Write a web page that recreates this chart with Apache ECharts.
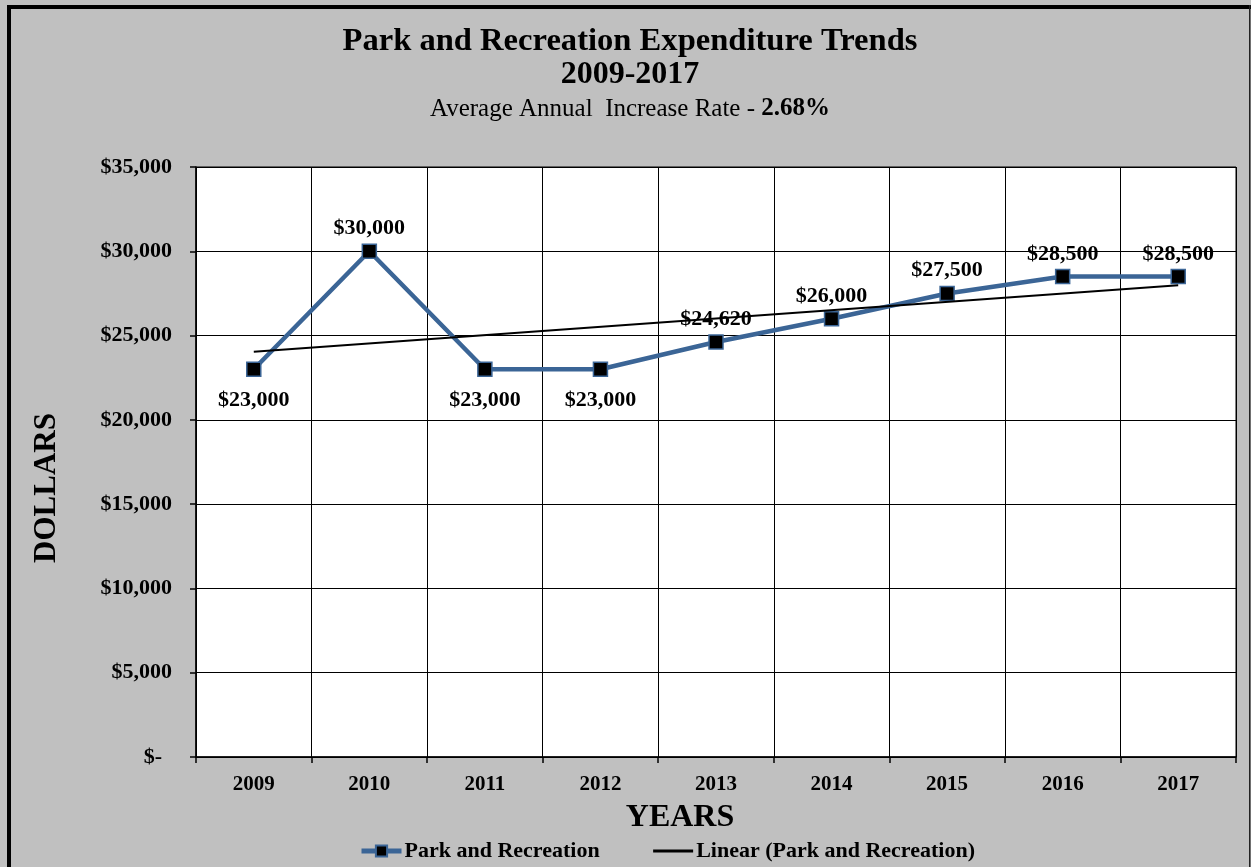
<!DOCTYPE html>
<html>
<head>
<meta charset="utf-8">
<title>Park and Recreation Expenditure Trends</title>
<script src="https://cdn.jsdelivr.net/npm/echarts@6/dist/echarts.min.js"></script>
<style>
  html, body { margin: 0; padding: 0; background: #c0c0c0; }
  #chart { width: 1251px; height: 867px; }
</style>
</head>
<body>
<div id="chart"></div>
<script>
// Annual park and recreation expenditure, 2009-2017
const years = ['2009', '2010', '2011', '2012', '2013', '2014', '2015', '2016', '2017'];
const expenditure = [23000, 30000, 23000, 23000, 24620, 26000, 27500, 28500, 28500];
// which value labels sit under their marker
const labelBelow = [true, false, true, true, false, false, false, false, false];
// linear trend line end points
const trendYears = ['2009', '2017'];
const trendValues = [24047, 27980];
// dollar tick labels, one per 5,000 step
const yTickLabels = ['$-', '$5,000', '$10,000', '$15,000', '$20,000', '$25,000', '$30,000', '$35,000'];

const SERIF = '"Liberation Serif", "Times New Roman", serif';
const BLUE = '#3B6596';

const chart = echarts.init(document.getElementById('chart'), null, { renderer: 'canvas' });

const fmtMoney = v => '$' + v.toLocaleString('en-US');

chart.setOption({
  backgroundColor: '#c0c0c0',
  animation: false,
  grid: {
    left: 196, right: 15, top: 167, bottom: 110,
    show: true, backgroundColor: '#ffffff', borderColor: '#000', borderWidth: 1
  },
  xAxis: {
    type: 'category',
    data: years,
    boundaryGap: true,
    axisLine: { lineStyle: { color: '#000', width: 1.5 } },
    axisTick: { show: true, length: 6, lineStyle: { color: '#000', width: 1.5 } },
    splitLine: { show: true, lineStyle: { color: '#000', width: 1 } },
    axisLabel: { color: '#000', fontFamily: SERIF, fontWeight: 'bold', fontSize: 21, margin: 17 }
  },
  yAxis: {
    type: 'value',
    min: 0, max: 35000, interval: 5000,
    axisLine: { show: true, lineStyle: { color: '#000', width: 1.5 } },
    axisTick: { show: true, length: 6, lineStyle: { color: '#000', width: 1.5 } },
    splitLine: { show: true, lineStyle: { color: '#000', width: 1 } },
    axisLabel: {
      color: '#000', fontFamily: SERIF, fontWeight: 'bold', fontSize: 22, margin: 24,
      formatter: v => {
        const t = yTickLabels[Math.round(v / 5000)];
        return v === 0 ? '{z|' + t + '}' : t;
      },
      rich: { z: { fontFamily: SERIF, fontWeight: 'bold', fontSize: 22, color: '#000', padding: [0, 10, 0, 0] } }
    }
  },
  legend: {
    left: 354, top: 835,
    itemWidth: 40, itemHeight: 14, itemGap: 52,
    textStyle: { color: '#000', fontFamily: SERIF, fontWeight: 'bold', fontSize: 22, padding: [0, 0, 0, -2] },
    data: [
      { name: 'Park and Recreation', lineStyle: { width: 5 } },
      { name: 'Linear (Park and Recreation)', itemStyle: { opacity: 0 }, lineStyle: { width: 3, opacity: 1 } }
    ]
  },
  series: [
    {
      name: 'Park and Recreation',
      type: 'line',
      data: expenditure.map((v, i) => ({
        value: v,
        label: { position: labelBelow[i] ? 'bottom' : 'top', distance: labelBelow[i] ? 12 : 4 }
      })),
      symbol: 'rect',
      symbolSize: 14,
      lineStyle: { color: BLUE, width: 4.5 },
      itemStyle: { color: '#000', borderColor: BLUE, borderWidth: 1.5 },
      label: {
        show: true,
        color: '#000', fontFamily: SERIF, fontWeight: 'bold', fontSize: 22,
        formatter: p => fmtMoney(p.value)
      },
      z: 3
    },
    {
      name: 'Linear (Park and Recreation)',
      type: 'line',
      data: trendYears.map((y, i) => [y, trendValues[i]]),
      symbol: 'none',
      lineStyle: { color: '#000', width: 2 },
      itemStyle: { color: '#000' },
      z: 4
    }
  ],
  graphic: [
    // frame
    { type: 'rect', shape: { x: 7, y: 5, width: 1244, height: 4 }, style: { fill: '#000' }, z: 10 },
    { type: 'rect', shape: { x: 7, y: 5, width: 4, height: 862 }, style: { fill: '#000' }, z: 10 },
    { type: 'rect', shape: { x: 1249, y: 5, width: 1.5, height: 862 }, style: { fill: '#222' }, z: 10 },
    // titles
    {
      type: 'text', x: 630, y: 42,
      style: { text: 'Park and Recreation Expenditure Trends', fill: '#000',
        font: 'bold 32.6px ' + SERIF, textAlign: 'center', textVerticalAlign: 'middle' }
    },
    {
      type: 'text', x: 630, y: 75,
      style: { text: '2009-2017', fill: '#000',
        font: 'bold 32px ' + SERIF, textAlign: 'center', textVerticalAlign: 'middle' }
    },
    {
      type: 'text', x: 630, y: 109,
      style: {
        text: '{r|Average Annual  Increase Rate - }{b|2.68%}',
        textAlign: 'center', textVerticalAlign: 'middle',
        rich: {
          r: { fontFamily: SERIF, fontSize: 25, color: '#000' },
          b: { fontFamily: SERIF, fontSize: 25, fontWeight: 'bold', color: '#000' }
        }
      }
    },
    // axis names
    {
      type: 'text', x: 47, y: 488, rotation: Math.PI / 2,
      style: { text: 'DOLLARS', fill: '#000', font: 'bold 31px ' + SERIF,
        textAlign: 'center', textVerticalAlign: 'middle' }
    },
    {
      type: 'text', x: 680, y: 818,
      style: { text: 'YEARS', fill: '#000', font: 'bold 32px ' + SERIF,
        textAlign: 'center', textVerticalAlign: 'middle' }
    }
  ]
});
</script>
</body>
</html>
